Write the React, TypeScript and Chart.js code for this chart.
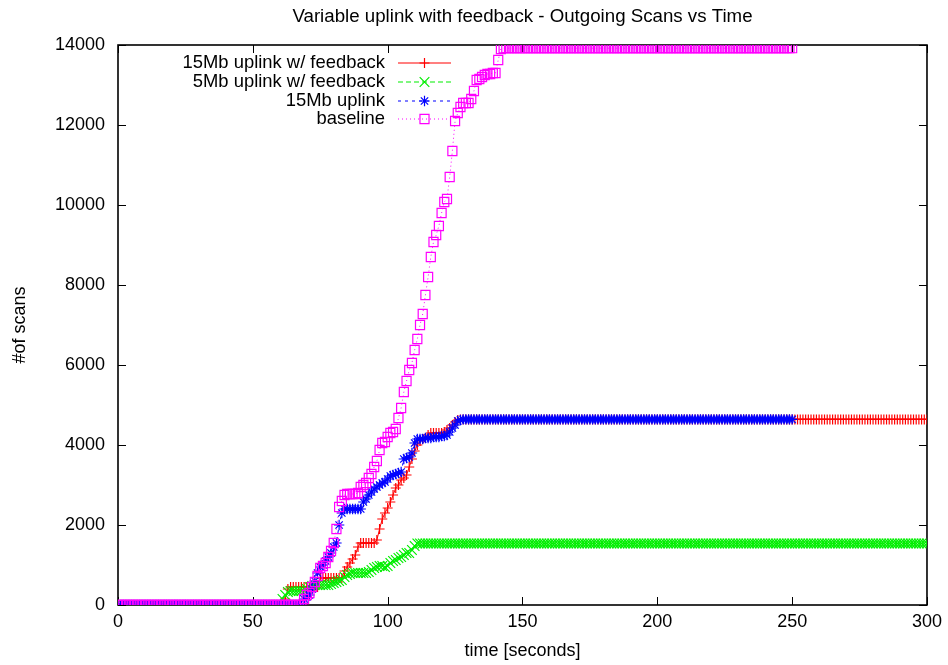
import React, { useEffect, useRef } from 'react';
import { Chart, registerables } from 'chart.js';
import { drawPoint } from 'chart.js/helpers';

Chart.register(...registerables);

const FONT = '"Liberation Sans", Arial, Helvetica, sans-serif';
const FONT_SIZE = 18;

const chartTitle = 'Variable uplink with feedback - Outgoing Scans vs Time';
const xAxisTitle = 'time [seconds]';
const yAxisTitle = '#of scans';

const seriesLabels = ['15Mb uplink w/ feedback', '5Mb uplink w/ feedback', '15Mb uplink', 'baseline'];
const seriesColors = ['#ff0000', '#00ee00', '#0000ff', '#ff00ff'];

const xTickValues = [0, 50, 100, 150, 200, 250, 300];
const yTickValues = [0, 2000, 4000, 6000, 8000, 10000, 12000, 14000];

// 15Mb uplink w/ feedback: 0 until riseStart, per-second values, then a plateau
const fb15RiseStart = 62;
const fb15Rise = [
  150, 400,
  450, 450, 450, 450, 450, 450, 450, 450, 450, 450, 450,
  675, 675, 675, 675, 675, 675, 675, 675, 675,
  850, 950, 1050, 1150, 1250, 1450,
  1550, 1550, 1550, 1550, 1550, 1550,
  1625, 1900, 2150, 2300, 2425, 2575, 2750, 2925,
  3000, 3125, 3175, 3250, 3450, 3650, 3850, 4000, 4100, 4150, 4175, 4250,
  4300, 4300, 4300, 4300, 4300, 4325, 4375, 4425, 4500, 4575, 4625,
];
const fb15Plateau = 4640;
const fb15End = 300;

// 5Mb uplink w/ feedback
const fb5RiseStart = 61;
const fb5Rise = [
  150, 250, 325, 350, 350, 350, 350, 350, 350, 400, 450, 475, 500,
  500, 500, 500, 500, 500, 525, 550, 575, 600, 625, 700, 750, 775, 800,
  800, 800, 800, 800, 800, 825, 875, 925, 950, 975, 975, 950, 975,
  1050, 1100, 1125, 1175, 1200, 1250, 1300, 1300, 1375, 1475,
];
const fb5Plateau = 1540;
const fb5End = 300;

// 15Mb uplink
const up15RiseStart = 69;
const up15Rise = [
  150, 200, 250, 400, 600, 800, 950, 1000, 1100, 1200, 1300, 1450, 1550,
  2000, 2300, 2400, 2400, 2400, 2400, 2400, 2400, 2400,
  2575, 2650, 2750, 2825, 2900, 2950, 3000, 3050, 3075, 3150, 3225, 3250, 3275, 3300, 3325,
  3650, 3675, 3700, 3800, 4050,
  4150, 4150, 4150, 4175, 4175, 4175, 4200, 4200, 4200, 4225, 4225, 4250,
  4325, 4425, 4500, 4600, 4625,
];
const up15Plateau = 4640;
const up15End = 250;

// baseline
const baseRiseStart = 69;
const baseRise = [
  150, 250, 300, 450, 575, 725, 925, 975, 1050, 1200, 1350, 1550, 1900,
  2450, 2600, 2750, 2775, 2775, 2775, 2775, 2800, 2950, 3000, 3050, 3175, 3275,
  3450, 3600, 3875, 4050, 4075, 4200, 4300, 4325, 4400, 4675, 4925, 5325, 5600,
  5875, 6050, 6375, 6650, 7000, 7275, 7750, 8200, 8700, 9075, 9250, 9475, 9800,
  10075, 10150, 10700, 11350, 12100, 12300, 12450, 12550, 12550, 12550, 12650,
  12850, 13125, 13150, 13200, 13250, 13275, 13275, 13300, 13300, 13625, 13900,
];
const basePlateau = 13920;
const baseEnd = 250;

function buildSeries(riseStart: number, rise: number[], plateau: number, end: number) {
  const pts: { x: number; y: number }[] = [];
  for (let t = 0; t <= end; t++) {
    let y: number;
    if (t < riseStart) y = 0;
    else if (t - riseStart < rise.length) y = rise[t - riseStart];
    else y = plateau;
    pts.push({ x: t, y });
  }
  return pts;
}

const pointStyles = ['cross', 'crossRot', 'star', 'rect'];
const pointRadii = [5, 6.8, 5.2, 6.4];
const dashes: number[][] = [[], [5, 3], [3, 4], [1, 3]];

const framePlugin = {
  id: 'gnuFrame',
  beforeDatasetsDraw(chart: any) {
    const { ctx, chartArea } = chart;
    const { left, right, top, bottom } = chartArea;
    const xs = chart.scales.x;
    const ys = chart.scales.y;
    ctx.save();
    ctx.strokeStyle = '#000';
    ctx.lineWidth = 1;
    ctx.beginPath();
    for (const v of xTickValues) {
      const px = Math.round(xs.getPixelForValue(v)) + 0.5;
      ctx.moveTo(px, bottom);
      ctx.lineTo(px, bottom - 8);
      ctx.moveTo(px, top);
      ctx.lineTo(px, top + 8);
    }
    for (const v of yTickValues) {
      const py = Math.round(ys.getPixelForValue(v)) + 0.5;
      ctx.moveTo(left, py);
      ctx.lineTo(left + 8, py);
      ctx.moveTo(right, py);
      ctx.lineTo(right - 8, py);
    }
    ctx.stroke();
    ctx.lineWidth = 1.6;
    ctx.strokeRect(left, top, right - left, bottom - top);
    ctx.restore();
  },
  afterDraw(chart: any) {
    const { ctx, chartArea } = chart;
    ctx.save();
    ctx.fillStyle = '#000';
    ctx.font = `18.7px ${FONT}`;
    ctx.textAlign = 'center';
    ctx.textBaseline = 'middle';
    ctx.fillText(chartTitle, (chartArea.left + chartArea.right) / 2, 17);

    ctx.font = `18.4px ${FONT}`;
    const textRight = 385;
    const lineStart = 398;
    const lineEnd = 451;
    const rowY0 = 63;
    const rowStep = 18.8;
    chart.data.datasets.forEach((ds: any, i: number) => {
      const y = rowY0 + i * rowStep;
      ctx.fillStyle = '#000';
      ctx.textAlign = 'right';
      ctx.fillText(seriesLabels[i], textRight, y);
      ctx.strokeStyle = seriesColors[i];
      ctx.lineWidth = 1.2;
      ctx.setLineDash(dashes[i]);
      ctx.beginPath();
      ctx.moveTo(lineStart, Math.round(y));
      ctx.lineTo(lineEnd, Math.round(y));
      ctx.stroke();
      ctx.setLineDash([]);
      ctx.fillStyle = 'rgba(0,0,0,0)';
      drawPoint(ctx, { pointStyle: pointStyles[i], rotation: 0, radius: pointRadii[i], borderWidth: 1.2 } as any, (lineStart + lineEnd) / 2, Math.round(y));
    });
    ctx.restore();
  },
};

export default function App() {
  const canvasRef = useRef<HTMLCanvasElement | null>(null);

  useEffect(() => {
    const canvas = canvasRef.current;
    if (!canvas) return;
    const raw = [
      buildSeries(fb15RiseStart, fb15Rise, fb15Plateau, fb15End),
      buildSeries(fb5RiseStart, fb5Rise, fb5Plateau, fb5End),
      buildSeries(up15RiseStart, up15Rise, up15Plateau, up15End),
      buildSeries(baseRiseStart, baseRise, basePlateau, baseEnd),
    ];
    const orders = [4, 3, 2, 1];
    const chart = new Chart(canvas, {
      type: 'line',
      data: {
        datasets: raw.map((d, i) => ({
          label: seriesLabels[i],
          data: d,
          borderColor: seriesColors[i],
          backgroundColor: 'rgba(0,0,0,0)',
          borderWidth: 1,
          borderDash: dashes[i],
          pointStyle: pointStyles[i] as any,
          pointRadius: pointRadii[i],
          pointBorderWidth: 1.2,
          pointBorderColor: seriesColors[i],
          pointBackgroundColor: 'rgba(0,0,0,0)',
          pointHoverRadius: pointRadii[i],
          tension: 0,
          fill: false,
          order: orders[i],
        })),
      },
      options: {
        animation: false,
        responsive: false,
        devicePixelRatio: 1,
        layout: { padding: { top: 45, right: 20, left: 0, bottom: 0 } },
        plugins: {
          legend: { display: false },
          tooltip: { enabled: false },
          title: { display: false },
        },
        scales: {
          x: {
            type: 'linear',
            min: 0,
            max: 300,
            afterBuildTicks: (s: any) => {
              s.ticks = xTickValues.map((v) => ({ value: v }));
            },
            afterFit: (s: any) => {
              s.height = 60;
            },
            ticks: {
              color: '#000',
              font: { family: FONT, size: FONT_SIZE },
              padding: 6,
              maxRotation: 0,
              autoSkip: false,
              callback: (v: any) => String(v),
            },
            grid: { display: false, drawTicks: false },
            border: { display: false },
            title: {
              display: true,
              text: xAxisTitle,
              color: '#000',
              font: { family: FONT, size: FONT_SIZE },
              padding: { top: 0, bottom: 3 },
            },
          },
          y: {
            type: 'linear',
            min: 0,
            max: 14000,
            afterBuildTicks: (s: any) => {
              s.ticks = yTickValues.map((v) => ({ value: v }));
            },
            afterFit: (s: any) => {
              s.width = 118;
            },
            ticks: {
              color: '#000',
              font: { family: FONT, size: FONT_SIZE },
              padding: 13,
              autoSkip: false,
              callback: (v: any) => String(v),
            },
            grid: { display: false, drawTicks: false },
            border: { display: false },
            title: {
              display: true,
              text: yAxisTitle,
              color: '#000',
              font: { family: FONT, size: FONT_SIZE },
              padding: { top: 9, bottom: 0 },
            },
          },
        },
      },
      plugins: [framePlugin],
    });
    return () => chart.destroy();
  }, []);

  return (
    <div style={{ position: 'fixed', left: 0, top: 0, width: 948, height: 665, background: '#fff' }}>
      <canvas ref={canvasRef} width={948} height={665} style={{ width: 948, height: 665, display: 'block' }} />
    </div>
  );
}
